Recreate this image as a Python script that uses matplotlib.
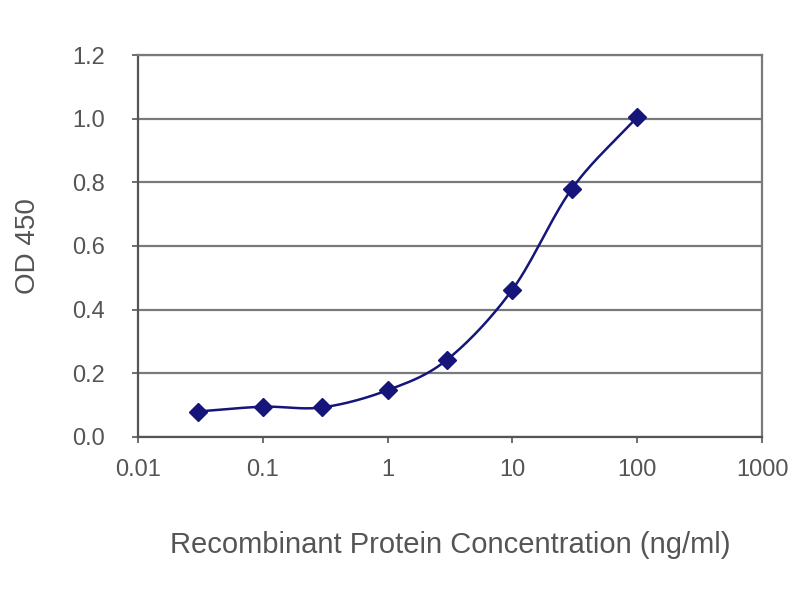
import numpy as np
import matplotlib
matplotlib.use("Agg")
import matplotlib.pyplot as plt

concentration = [0.03, 0.1, 0.3, 1, 3, 10, 30, 100]
od450 = [0.080, 0.095, 0.093, 0.147, 0.243, 0.463, 0.780, 1.005]
x_ticks = [0.01, 0.1, 1, 10, 100, 1000]
x_tick_labels = ["0.01", "0.1", "1", "10", "100", "1000"]
y_ticks = [0.0, 0.2, 0.4, 0.6, 0.8, 1.0, 1.2]

plt.rcParams['font.family'] = ['Liberation Sans', 'DejaVu Sans']

fig = plt.figure(figsize=(8, 6), dpi=100)
ax = fig.add_axes([0.1725, 0.2717, 0.78, 0.6366])

# smoothed curve (Catmull-Rom in log-x space, similar to a spreadsheet smooth line)
lx = np.log10(np.array(concentration, dtype=float))
ly = np.array(od450, dtype=float)
P = np.column_stack([lx, ly])
Pext = np.vstack([2 * P[0] - P[1], P, 2 * P[-1] - P[-2]])
curve = []
for i in range(1, len(Pext) - 2):
    p0, p1, p2, p3 = Pext[i - 1], Pext[i], Pext[i + 1], Pext[i + 2]
    t = np.linspace(0, 1, 30)[:, None]
    seg = 0.5 * ((2 * p1) + (-p0 + p2) * t + (2 * p0 - 5 * p1 + 4 * p2 - p3) * t ** 2
                 + (-p0 + 3 * p1 - 3 * p2 + p3) * t ** 3)
    curve.append(seg)
curve = np.vstack(curve)

navy = "#15157a"
ax.plot(10 ** curve[:, 0], curve[:, 1], color=navy, lw=1.8, zorder=3)
ax.plot(concentration, od450, linestyle="none", marker="D", markersize=9,
        color=navy, zorder=4)

ax.set_xscale("log")
ax.set_xlim(0.01, 1000)
ax.set_ylim(0, 1.2)
ax.set_xticks(x_ticks)
ax.set_xticklabels(x_tick_labels)
ax.xaxis.set_minor_locator(matplotlib.ticker.NullLocator())
ax.set_yticks(y_ticks)
ax.set_yticklabels([f"{v:.1f}" for v in y_ticks])

ax.grid(axis="y", color="#7a7a7a", lw=1.6)
ax.set_axisbelow(True)
for s in ax.spines.values():
    s.set_color("#7a7a7a")
    s.set_linewidth(1.6)
ax.spines["left"].set_color("#555555")
ax.spines["bottom"].set_color("#555555")

ax.tick_params(axis="both", colors="#555555", labelcolor="#555555",
               labelsize=17, length=4, width=1.2)
ax.tick_params(axis="x", pad=12)
ax.tick_params(axis="y", pad=20)

ax.set_xlabel("Recombinant Protein Concentration (ng/ml)", fontsize=21,
              color="#555555", labelpad=36)
ax.set_ylabel("OD 450", fontsize=20, color="#555555", labelpad=22)

fig.savefig("out.png", dpi=100)
